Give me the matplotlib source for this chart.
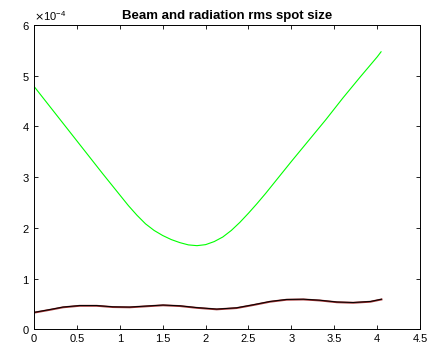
import numpy as np
import matplotlib
matplotlib.use("Agg")
import matplotlib.pyplot as plt
from matplotlib.ticker import ScalarFormatter

# radiation rms spot size (green), units of 1e-4
z_rad = [0.0, 0.2, 0.4, 0.6, 0.8, 0.9, 1.0, 1.1, 1.2, 1.3, 1.4, 1.5, 1.6, 1.7,
         1.8, 1.9, 2.0, 2.05, 2.1, 2.2, 2.3, 2.4, 2.5, 2.6, 2.7, 2.8, 3.0, 3.2,
         3.4, 3.6, 3.8, 4.0, 4.045]
s_rad = [4.79, 4.36, 3.93, 3.50, 3.07, 2.86, 2.65, 2.44, 2.25, 2.08, 1.95, 1.85,
         1.77, 1.71, 1.665, 1.65, 1.67, 1.70, 1.73, 1.82, 1.95, 2.11, 2.29, 2.48,
         2.68, 2.89, 3.31, 3.72, 4.13, 4.56, 4.97, 5.37, 5.47]

# beam rms spot size (x: red, y: black), units of 1e-4
z_beam = [0.0, 0.183, 0.338, 0.533, 0.73, 0.92, 1.115, 1.31, 1.505, 1.70, 1.895,
          2.13, 2.36, 2.555, 2.75, 2.945, 3.14, 3.33, 3.53, 3.72, 3.92, 4.05]
s_beam_x = [0.33, 0.385, 0.435, 0.465, 0.465, 0.44, 0.435, 0.455, 0.475, 0.46,
            0.425, 0.395, 0.42, 0.48, 0.545, 0.585, 0.59, 0.57, 0.535, 0.525,
            0.545, 0.59]
s_beam_y = [0.335, 0.39, 0.44, 0.47, 0.47, 0.445, 0.44, 0.46, 0.48, 0.465,
            0.43, 0.40, 0.425, 0.485, 0.55, 0.59, 0.595, 0.575, 0.54, 0.53,
            0.55, 0.595]

scale = 1e-4

plt.rcParams['font.family'] = ['Liberation Sans', 'DejaVu Sans']
fig = plt.figure(figsize=(4.3, 3.46), dpi=100)
ax = fig.add_axes([0.079, 0.048, 0.898, 0.880])

ax.plot(z_rad, np.array(s_rad) * scale, color='#00ff00', lw=0.8)
ax.plot(z_beam, np.array(s_beam_x) * scale, color='#a03030', lw=1.4)
ax.plot(z_beam, np.array(s_beam_y) * scale, color='black', lw=0.7)

ax.set_xlim(0, 4.5)
ax.set_ylim(0, 6e-4)
ax.set_xticks(np.arange(0, 4.51, 0.5))
ax.set_xticklabels(['0', '0.5', '1', '1.5', '2', '2.5', '3', '3.5', '4', '4.5'])
fmt = ScalarFormatter(useMathText=True)
fmt.set_powerlimits((-3, 3))
ax.yaxis.set_major_formatter(fmt)
ax.yaxis.get_offset_text().set_fontsize(8)

ax.tick_params(direction='in', top=True, right=True, labelsize=8,
               length=3, width=0.6, pad=3)
for sp in ax.spines.values():
    sp.set_linewidth(0.7)

ax.set_title('Beam and radiation rms spot size', fontsize=9.5, fontweight='bold', pad=4)

fig.savefig('out.png', dpi=100)
